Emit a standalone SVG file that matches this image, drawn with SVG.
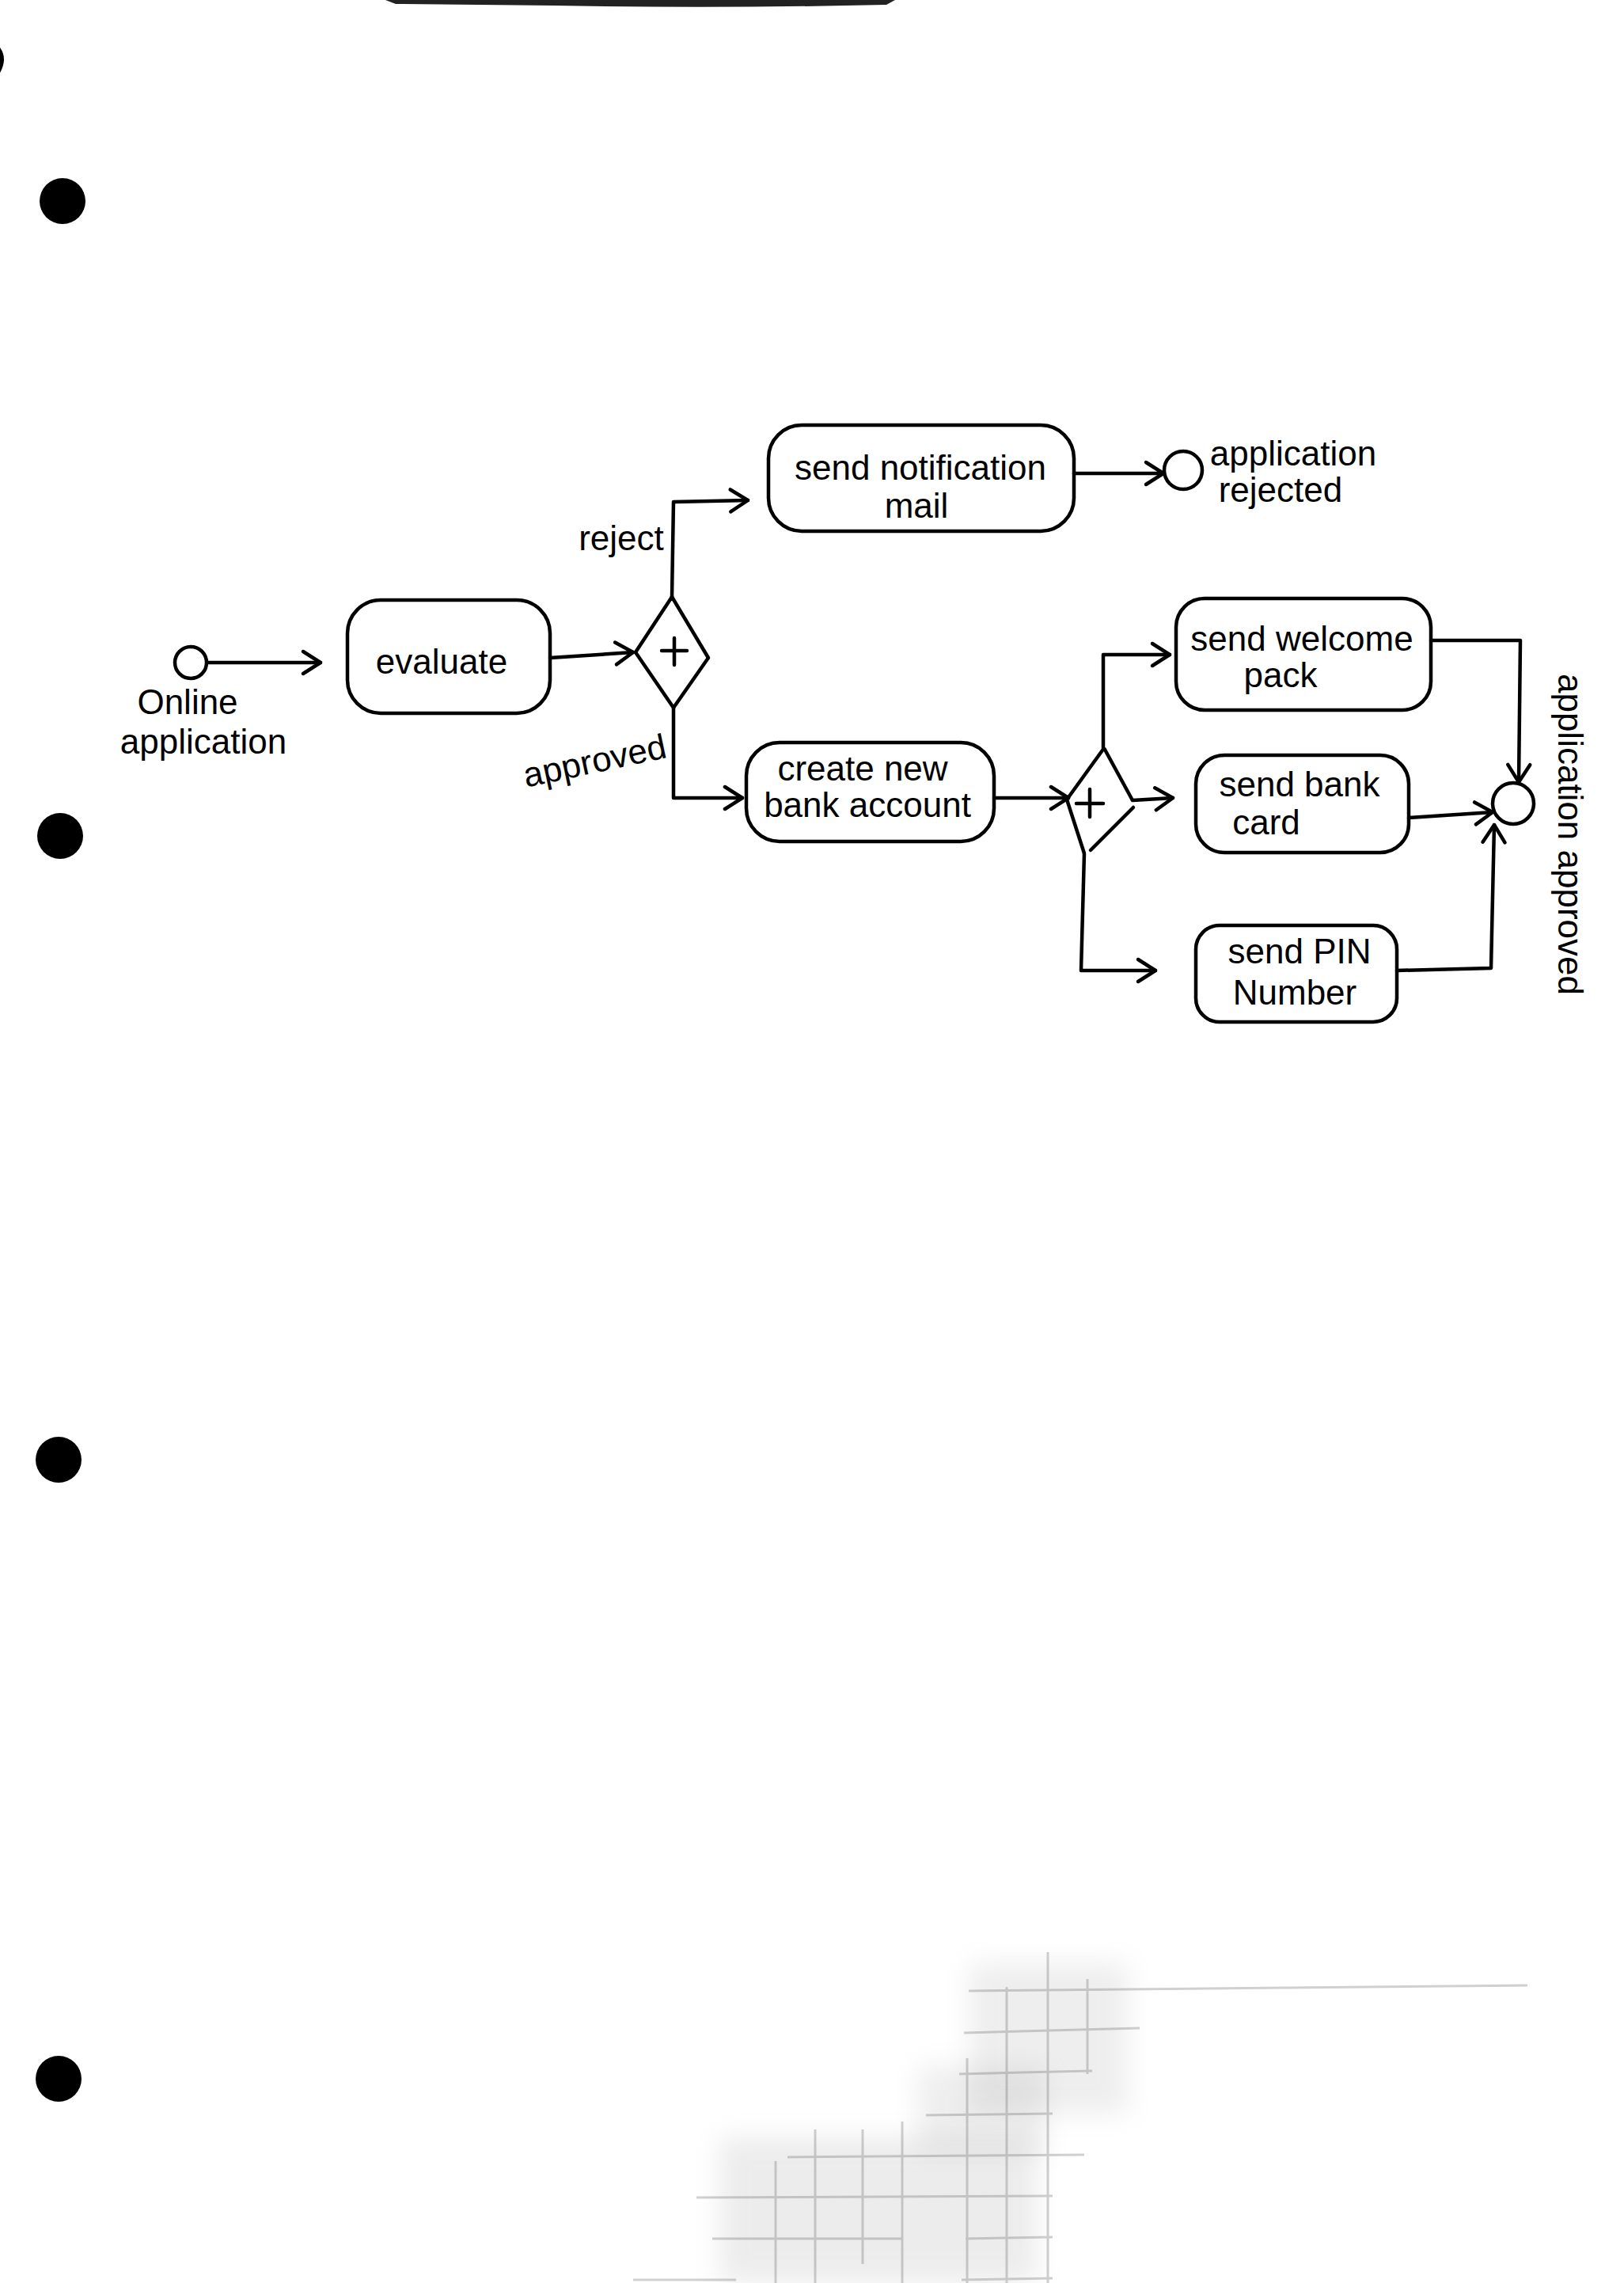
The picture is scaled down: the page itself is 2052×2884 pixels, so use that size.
<svg xmlns="http://www.w3.org/2000/svg" width="2052" height="2884" viewBox="0 0 2052 2884">
<defs>
<marker id="arr" markerUnits="userSpaceOnUse" markerWidth="40" markerHeight="40" refX="30" refY="20" orient="auto">
<path d="M8,6 L30,20 L8,34" fill="none" stroke="#000" stroke-width="4.5" stroke-linecap="round" stroke-linejoin="round"/>
</marker>
<filter id="blur" x="-30%" y="-30%" width="160%" height="160%"><feGaussianBlur stdDeviation="16"/></filter>
</defs>
<style>
.box{fill:none;stroke:#000;stroke-width:4.5;stroke-linejoin:round}
.ln{fill:none;stroke:#000;stroke-width:4.5;stroke-linecap:round;stroke-linejoin:round}
.ev{fill:#fff;stroke:#000;stroke-width:4.5}
.t{font-family:"Liberation Sans","DejaVu Sans",sans-serif;font-size:44px;fill:#000;text-anchor:middle}
.hole{fill:#000}
.smudge{stroke:#666;stroke-width:3;opacity:0.3}
</style>
<rect width="2052" height="2884" fill="#fff"/>

<g id="paper">
<path d="M487,0 L1131,0 L1120,6 Q900,11 700,7 L500,5 Z" fill="#222"/>
<path d="M0,60 Q10,74 0,92 Z" fill="#000"/>
<circle class="hole" cx="79" cy="254" r="29"/>
<circle class="hole" cx="76" cy="1056" r="29"/>
<circle class="hole" cx="74" cy="1844" r="29"/>
<circle class="hole" cx="74" cy="2626" r="29"/>
<g id="scan-smudge">
<rect x="1225" y="2480" width="200" height="190" fill="#999" opacity="0.16" filter="url(#blur)"/>
<rect x="910" y="2700" width="400" height="184" fill="#999" opacity="0.18" filter="url(#blur)"/>
<rect x="1160" y="2610" width="160" height="110" fill="#999" opacity="0.16" filter="url(#blur)"/>
<g class="smudge">
<line x1="1324" y1="2466" x2="1324" y2="2884"/>
<line x1="1374" y1="2500" x2="1374" y2="2620"/>
<line x1="1272" y1="2510" x2="1272" y2="2884"/>
<line x1="1222" y1="2600" x2="1222" y2="2884"/>
<line x1="1140" y1="2680" x2="1140" y2="2884"/>
<line x1="1090" y1="2690" x2="1090" y2="2860"/>
<line x1="1030" y1="2690" x2="1030" y2="2884"/>
<line x1="980" y1="2730" x2="980" y2="2884"/>
<line x1="1224" y1="2515" x2="1930" y2="2508"/>
<line x1="1218" y1="2568" x2="1440" y2="2562"/>
<line x1="1212" y1="2620" x2="1380" y2="2616"/>
<line x1="1170" y1="2672" x2="1330" y2="2670"/>
<line x1="995" y1="2725" x2="1370" y2="2722"/>
<line x1="880" y1="2776" x2="1330" y2="2774"/>
<line x1="900" y1="2828" x2="1140" y2="2828"/>
<line x1="1220" y1="2828" x2="1330" y2="2826"/>
<line x1="800" y1="2880" x2="930" y2="2880"/>
<line x1="1215" y1="2880" x2="1330" y2="2878"/>
</g>
</g>
</g>

<g id="start-online-application">
<circle class="ev" cx="241" cy="837" r="20"/>
<text class="t" x="237" y="902" font-size="40">Online</text>
<text class="t" x="257" y="952" font-size="40">application</text>
</g>

<g id="task-evaluate">
<rect class="box" x="439" y="758" width="256" height="143" rx="42"/>
<text class="t" x="558" y="851" font-size="54">evaluate</text>
</g>

<g id="gateway-1">
<path class="box" d="M803,824 L849,754 L895,831 L851,894 Z"/>
<path class="ln" d="M852,806 L852,840 M836,822 L868,822"/>
</g>

<g id="task-send-notification-mail">
<rect class="box" x="971" y="537" width="386" height="134" rx="42"/>
<text class="t" x="1163" y="606" font-size="46">send notification</text>
<text class="t" x="1158" y="654" font-size="46">mail</text>
</g>

<g id="end-application-rejected">
<circle class="ev" cx="1495" cy="594" r="24"/>
<text class="t" x="1634" y="588">application</text>
<text class="t" x="1618" y="634">rejected</text>
</g>

<g id="task-create-new-bank-account">
<rect class="box" x="943" y="938" width="313" height="125" rx="42"/>
<text class="t" x="1090" y="986" font-size="46">create new</text>
<text class="t" x="1096" y="1032" font-size="46">bank account</text>
</g>

<g id="gateway-2">
<path class="box" d="M1395,945 L1348,1010 L1370,1078"/>
<path class="box" d="M1395,945 L1431,1011"/>
<path class="ln" d="M1378,1074 L1432,1020"/>
<path class="ln" d="M1377,997 L1377,1032 M1360,1015 L1394,1015"/>
</g>

<g id="task-send-welcome-pack">
<rect class="box" x="1486" y="756" width="322" height="141" rx="36"/>
<text class="t" x="1645" y="822" font-size="46">send welcome</text>
<text class="t" x="1618" y="868" font-size="46">pack</text>
</g>

<g id="task-send-bank-card">
<rect class="box" x="1511" y="954" width="269" height="123" rx="36"/>
<text class="t" x="1642" y="1006" font-size="46">send bank</text>
<text class="t" x="1600" y="1054" font-size="46">card</text>
</g>

<g id="task-send-pin-number">
<rect class="box" x="1511" y="1169" width="254" height="122" rx="30"/>
<text class="t" x="1642" y="1217" font-size="46">send PIN</text>
<text class="t" x="1636" y="1269" font-size="46">Number</text>
</g>

<g id="end-application-approved">
<circle class="ev" cx="1912" cy="1015" r="26"/>
<text class="t" x="1985" y="1054" transform="rotate(90 1985 1054)" font-size="47" dy="16">application approved</text>
</g>

<g id="connectors">
<path class="ln" d="M262,837 L405,837" marker-end="url(#arr)"/>
<path class="ln" d="M695,831 L800,824" marker-end="url(#arr)"/>
<path class="ln" d="M849,754 L851,634 L945,632" marker-end="url(#arr)"/>
<text class="t" x="785" y="695" font-size="42">reject</text>
<path class="ln" d="M851,894 L851,1008 L938,1008" marker-end="url(#arr)"/>
<text class="t" x="752" y="976" transform="rotate(-12 752 964)" font-size="34">approved</text>
<path class="ln" d="M1357,598 L1470,598" marker-end="url(#arr)"/>
<path class="ln" d="M1256,1008 L1350,1008" marker-end="url(#arr)"/>
<path class="ln" d="M1394,945 L1394,827 L1478,827" marker-end="url(#arr)"/>
<path class="ln" d="M1431,1011 L1482,1008" marker-end="url(#arr)"/>
<path class="ln" d="M1370,1078 L1366,1226 L1460,1226" marker-end="url(#arr)"/>
<path class="ln" d="M1808,809 L1921,809 L1919,988" marker-end="url(#arr)"/>
<path class="ln" d="M1780,1033 L1886,1026" marker-end="url(#arr)"/>
<path class="ln" d="M1765,1226 L1884,1223 L1888,1042" marker-end="url(#arr)"/>
</g>
</svg>
